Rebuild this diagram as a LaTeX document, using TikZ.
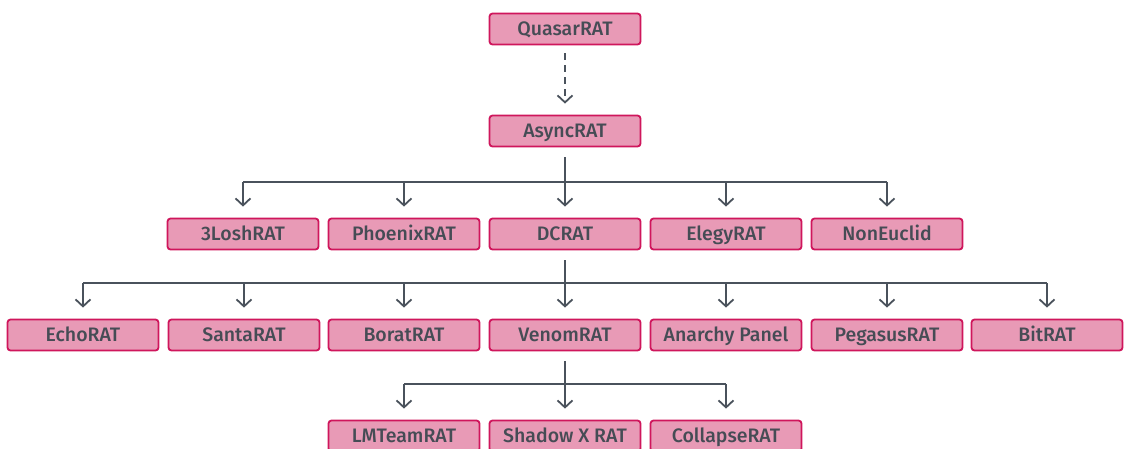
\documentclass[tikz,border=0pt]{standalone}
\usepackage{fontspec}
\setmainfont{Fira Sans}[BoldFont={Fira Sans Medium}]
\usepackage{tikz}
\usetikzlibrary{arrows.meta}
\definecolor{ratfill}{HTML}{E89AB6}
\definecolor{ratdraw}{HTML}{CF165C}
\definecolor{rattext}{HTML}{464C55}
\definecolor{ratline}{HTML}{4A525C}

\begin{document}
\begin{tikzpicture}[x=1pt,y=-1pt,
  rat/.style={shape=rectangle,rounded corners=3pt,draw=ratdraw,line width=1.8pt,fill=ratfill,
    minimum width=151pt,minimum height=31pt,inner sep=0pt,text height=13.4pt,text depth=0pt,
    text=rattext,font=\fontsize{19.5}{22}\selectfont\bfseries},
  link/.style={draw=ratline,line width=1.8pt},
  down/.style={link,-{Straight Barb[length=7pt,width=15pt,line width=1.8pt]},shorten >=11pt}]
\useasboundingbox (0,0) rectangle (1126,448);
\node[rat] (1) at (565,29) {QuasarRAT};
\node[rat] (2) at (565,131) {AsyncRAT};
\node[rat] (3) at (243,234) {3LoshRAT};
\node[rat] (4) at (404,234) {PhoenixRAT};
\node[rat] (5) at (565,234) {DCRAT};
\node[rat] (6) at (726,234) {ElegyRAT};
\node[rat] (7) at (887,234) {NonEuclid};
\node[rat] (8) at (83,335) {EchoRAT};
\node[rat] (9) at (244,335) {SantaRAT};
\node[rat] (10) at (404,335) {BoratRAT};
\node[rat] (11) at (565,335) {VenomRAT};
\node[rat] (12) at (726,335) {Anarchy Panel};
\node[rat] (13) at (887,335) {PegasusRAT};
\node[rat] (14) at (1047,335) {BitRAT};
\node[rat] (15) at (404,436) {LMTeamRAT};
\node[rat] (16) at (565,436) {Shadow X RAT};
\node[rat] (17) at (726,436) {CollapseRAT};
% QuasarRAT -> AsyncRAT
\draw[down,dashed,dash pattern=on 7pt off 5pt,shorten <=8pt] (1) -- (2);
% AsyncRAT -> row 2
\coordinate (b1) at (565,182);
\draw[link] (3 |- b1) -- (7 |- b1);
\draw[down,shorten <=10pt] (2) -- (5);
\draw[down] (3 |- b1) -- (3);
\draw[down] (4 |- b1) -- (4);
\draw[down] (6 |- b1) -- (6);
\draw[down] (7 |- b1) -- (7);
% DCRAT -> row 3
\coordinate (b2) at (565,283);
\draw[link] (8 |- b2) -- (14 |- b2);
\draw[down,shorten <=10pt] (5) -- (11);
\draw[down] (8 |- b2) -- (8);
\draw[down] (9 |- b2) -- (9);
\draw[down] (10 |- b2) -- (10);
\draw[down] (12 |- b2) -- (12);
\draw[down] (13 |- b2) -- (13);
\draw[down] (14 |- b2) -- (14);
% VenomRAT -> row 4
\coordinate (b3) at (565,384);
\draw[link] (15 |- b3) -- (17 |- b3);
\draw[down,shorten <=10pt] (11) -- (16);
\draw[down] (15 |- b3) -- (15);
\draw[down] (17 |- b3) -- (17);
\end{tikzpicture}
\end{document}
